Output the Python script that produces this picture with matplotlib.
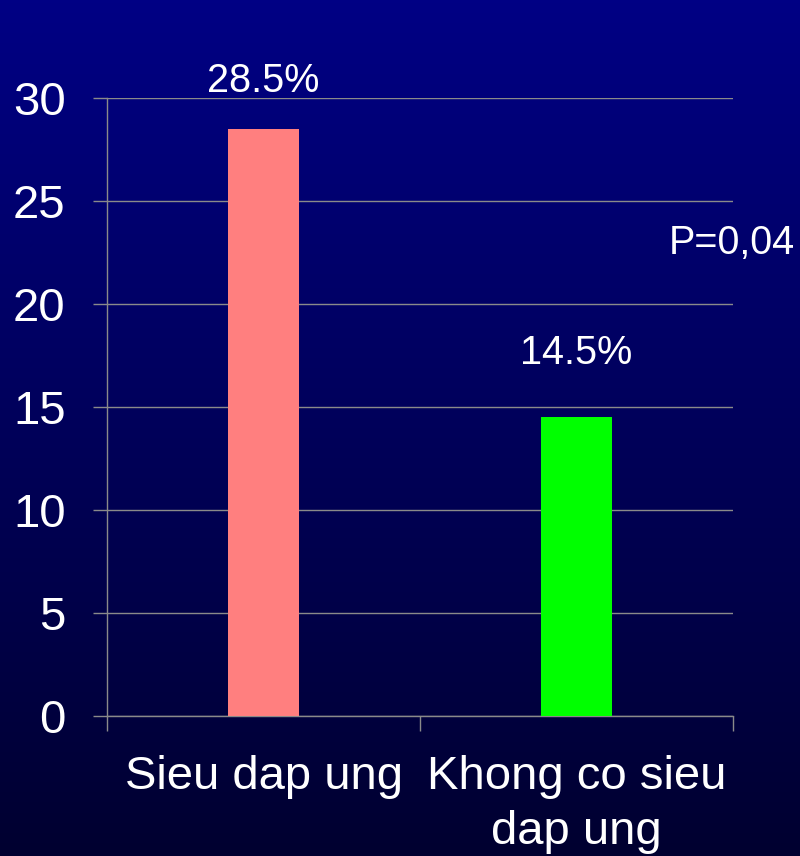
import matplotlib.pyplot as plt
import numpy as np

plt.rcParams['font.family'] = ['Liberation Sans', 'DejaVu Sans']

categories = ['Sieu dap ung', 'Khong co sieu\ndap ung']
values = [28.5, 14.5]
labels = ['28.5%', '14.5%']
colors = ['#FF7F7F', '#00FF00']

fig = plt.figure(figsize=(8, 8.56), dpi=100)

# background gradient: navy at top, darker toward bottom
bg = fig.add_axes([0, 0, 1, 1], zorder=-1)
grad = np.linspace(0, 1, 256).reshape(-1, 1)
top = np.array([0, 0, 0x84]) / 255
bot = np.array([0, 0, 0x30]) / 255
img = top + (bot - top) * grad[..., None]
bg.imshow(img, aspect='auto', extent=[0, 1, 0, 1])
bg.set_axis_off()

ax = fig.add_axes([0.134, 0.1636, 0.782, 0.722])
ax.set_facecolor('none')

x = np.arange(len(categories))
ax.bar(x, values, width=0.227, color=colors, zorder=3)

ax.set_xlim(-0.5, 1.5)
ax.set_ylim(0, 30)
ax.set_yticks(range(0, 31, 5))
ax.grid(axis='y', color='#8a8a8a', linewidth=1, zorder=0)

for s in ['top', 'right']:
    ax.spines[s].set_visible(False)
for s in ['left', 'bottom']:
    ax.spines[s].set_color('#8a8a8a')
    ax.spines[s].set_linewidth(1)

ax.tick_params(axis='y', colors='#8a8a8a', labelcolor='white', labelsize=34,
               length=10, width=1, pad=20)
ax.set_xticks(x, labels=categories)
ax.tick_params(axis='x', which='major', length=0, labelcolor='white',
               labelsize=34, pad=28)
for t in ax.get_xticklabels():
    t.set_linespacing(1.33)
ax.set_xticks([-0.5, 0.5, 1.5], minor=True)
ax.tick_params(axis='x', which='minor', length=11, width=1, colors='#8a8a8a')

offsets = [2.3, 3.1]
for xi, v, lab, off in zip(x, values, labels, offsets):
    ax.text(xi, v + off, lab, ha='center', va='center', color='white',
            fontsize=28.5)

fig.text(0.994, 0.716, 'P=0,04', ha='right', va='center', color='white',
         fontsize=28.5)

fig.savefig('out.png', dpi=100)
